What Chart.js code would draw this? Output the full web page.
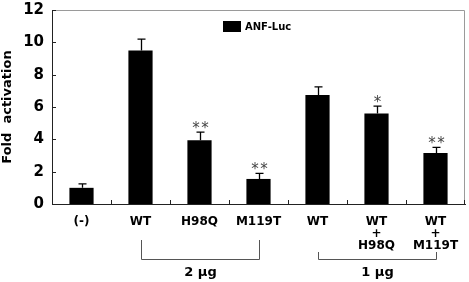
<!DOCTYPE html>
<html>
<head>
<meta charset="utf-8">
<script src="https://cdn.jsdelivr.net/npm/chart.js@4/dist/chart.umd.min.js"></script>
<style>
  html, body { margin: 0; padding: 0; background: #fff; }
  #wrap { width: 469px; height: 282px; }
</style>
</head>
<body>
<div id="wrap"><canvas id="foldChart" width="469" height="282"></canvas></div>
<script>
// datos
const categories = [['(-)'], ['WT'], ['H98Q'], ['M119T'], ['WT'], ['WT', '+', 'H98Q'], ['WT', '+', 'M119T']];
const foldValues = [1.0, 9.5, 3.95, 1.55, 6.75, 5.6, 3.15];
const errValues = [0.25, 0.7, 0.5, 0.35, 0.5, 0.45, 0.35];
const stars = ['', '', '**', '**', '', '*', '**'];
const yTicks = [0, 2, 4, 6, 8, 10, 12];
const groups = [
    { label: '2 \u00b5g', from: 1, to: 3 },
    { label: '1 \u00b5g', from: 4, to: 6 }
];
const seriesName = 'ANF-Luc';

const FONT = '"DejaVu Sans", sans-serif';

const decoPlugin = {
    id: 'deco',
    afterDatasetsDraw(chart) {
        const ctx = chart.ctx;
        const x = chart.scales.x;
        const y = chart.scales.y;
        const area = chart.chartArea;
        const meta = chart.getDatasetMeta(0);

        ctx.save();
        // marco gris arriba y a la derecha
        ctx.strokeStyle = '#9a9a9a';
        ctx.lineWidth = 1;
        ctx.beginPath();
        ctx.moveTo(area.left, area.top + 0.5);
        ctx.lineTo(area.right - 0.5, area.top + 0.5);
        ctx.lineTo(area.right - 0.5, area.bottom);
        ctx.stroke();

        // ticks hacia adentro
        ctx.strokeStyle = '#222';
        ctx.beginPath();
        yTicks.forEach(v => {
            const py = Math.round(y.getPixelForValue(v)) + 0.5;
            ctx.moveTo(area.left, py);
            ctx.lineTo(area.left + 4, py);
        });
        for (let i = 0; i < categories.length - 1; i++) {
            const px = Math.round((x.getPixelForValue(i) + x.getPixelForValue(i + 1)) / 2) + 0.5;
            ctx.moveTo(px, area.bottom);
            ctx.lineTo(px, area.bottom - 4);
        }
        ctx.moveTo(area.right - 0.5, area.bottom);
        ctx.lineTo(area.right - 0.5, area.bottom - 4);
        ctx.stroke();

        // barras de error y asteriscos
        ctx.strokeStyle = '#000';
        ctx.lineWidth = 1.3;
        ctx.font = '15px ' + FONT;
        ctx.fillStyle = '#444';
        ctx.textAlign = 'center';
        ctx.textBaseline = 'alphabetic';
        meta.data.forEach((bar, i) => {
            const cx = Math.round(bar.x) + 0.5;
            const top = y.getPixelForValue(foldValues[i] + errValues[i]);
            ctx.beginPath();
            ctx.moveTo(cx, bar.y);
            ctx.lineTo(cx, top);
            ctx.moveTo(cx - 4, top);
            ctx.lineTo(cx + 4, top);
            ctx.stroke();
            if (stars[i]) {
                ctx.fillText(stars[i].split('').join('\u200a'), cx, top + 1);
            }
        });

        // leyenda
        ctx.fillStyle = '#000';
        ctx.fillRect(223, 21, 18, 11);
        ctx.font = 'bold 10px ' + FONT;
        ctx.textAlign = 'left';
        ctx.textBaseline = 'middle';
        ctx.fillText(seriesName, 245, 27);

        // corchetes de dosis
        ctx.strokeStyle = '#555';
        ctx.lineWidth = 1;
        groups.forEach((g, k) => {
            const x1 = Math.round(x.getPixelForValue(g.from)) + 0.5;
            const x2 = Math.round(x.getPixelForValue(g.to)) + 0.5;
            const yb = 259.5;
            const yt = k === 0 ? 240 : 252;
            ctx.beginPath();
            ctx.moveTo(x1, yt);
            ctx.lineTo(x1, yb);
            ctx.lineTo(x2, yb);
            ctx.lineTo(x2, yt);
            ctx.stroke();
            ctx.fillStyle = '#000';
            ctx.font = 'bold 13px ' + FONT;
            ctx.textAlign = 'center';
            ctx.fillText(g.label, (x1 + x2) / 2, 273);
        });
        ctx.restore();
    }
};

const ctx = document.getElementById('foldChart').getContext('2d');
new Chart(ctx, {
    type: 'bar',
    data: {
        labels: categories,
        datasets: [{
            label: seriesName,
            data: foldValues,
            backgroundColor: '#000',
            borderWidth: 0,
            barPercentage: 0.41,
            categoryPercentage: 1
        }]
    },
    options: {
        responsive: false,
        animation: false,
        layout: { padding: { top: 10, right: 4, left: 0, bottom: 0 } },
        plugins: {
            legend: { display: false },
            tooltip: { enabled: false }
        },
        scales: {
            x: {
                grid: { display: false, drawTicks: false },
                border: { display: true, color: '#222', width: 1 },
                ticks: {
                    color: '#000',
                    padding: 12,
                    maxRotation: 0,
                    autoSkip: false,
                    font: { family: FONT, size: 12, weight: 'bold', lineHeight: 1.0 }
                },
                afterFit: s => { s.height = 78; s.paddingLeft = 0; s.paddingRight = 0; }
            },
            y: {
                min: 0,
                max: 12,
                grid: { display: false, drawTicks: false },
                border: { display: true, color: '#222', width: 1 },
                ticks: {
                    stepSize: 2,
                    color: '#000',
                    padding: 8,
                    font: { family: FONT, size: 15, weight: 'bold' }
                },
                title: {
                    display: true,
                    text: 'Fold  activation',
                    color: '#000',
                    padding: 0,
                    font: { family: FONT, size: 13, weight: 'bold' }
                },
                afterFit: s => { s.width = 52; s.paddingTop = 0; s.paddingBottom = 0; }
            }
        }
    },
    plugins: [decoPlugin]
});
</script>
</body>
</html>
